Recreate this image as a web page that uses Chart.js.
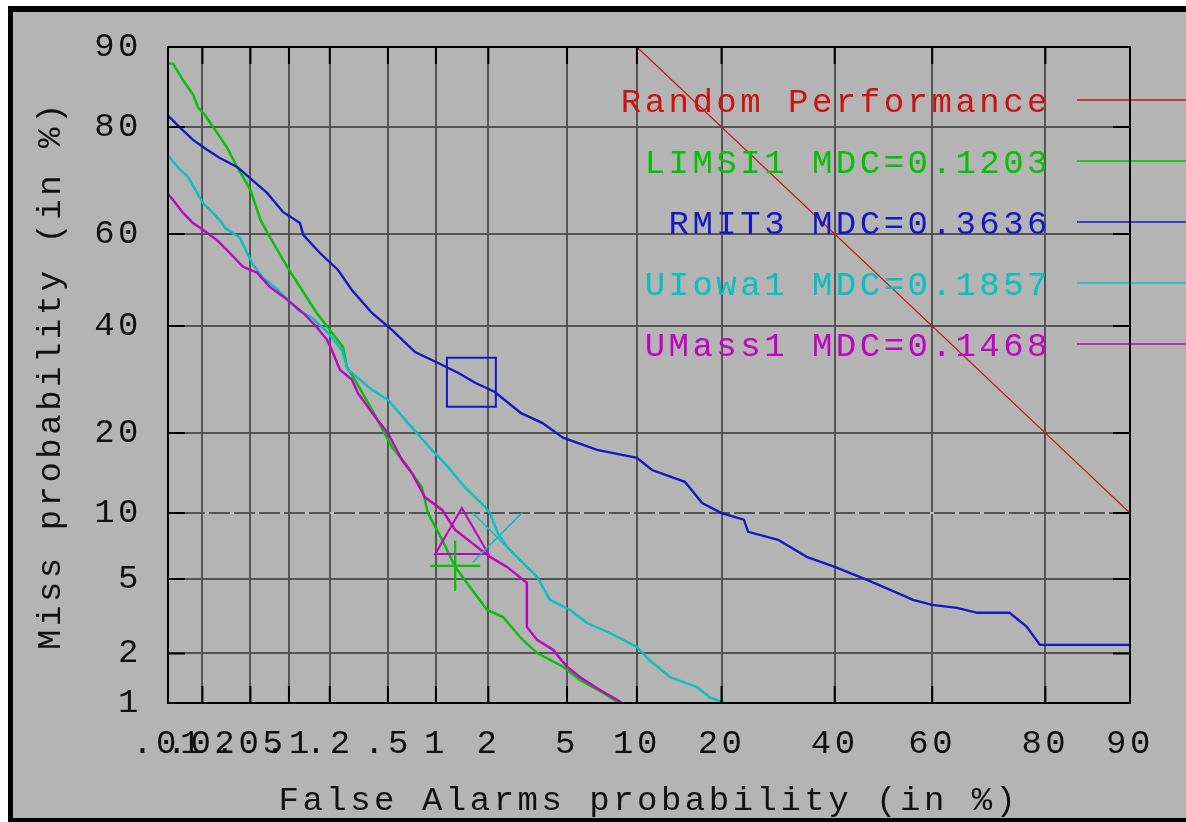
<!DOCTYPE html>
<html><head><meta charset="utf-8">
<script src="https://cdn.jsdelivr.net/npm/chart.js@4.4.1/dist/chart.umd.min.js"></script>
<style>html,body{margin:0;padding:0;background:#fff;overflow:hidden}canvas{display:block}</style>
</head><body>
<canvas id="c" width="1186" height="822"></canvas>
<script>
// ---------- data (percent) ----------
const xTickValues = [0.01,0.02,0.05,0.1,0.2,0.5,1,2,5,10,20,40,60,80,90];
const xTickLabels = ['.01','.02','.05','.1','.2','.5','1','2','5','10','20','40','60','80','90'];
const yTickValues = [1,2,5,10,20,40,60,80,90];
const yTickLabels = ['1','2','5','10','20','40','60','80','90'];

const legendLabels = ['Random Performance','LIMSI1 MDC=0.1203','RMIT3 MDC=0.3636','UIowa1 MDC=0.1857','UMass1 MDC=0.1468'];

const randomFA   = [10, 90];
const randomMiss = [90, 10];

const limsiFA   = [0.01,0.0111,0.0136,0.0166,0.0183,0.021,0.0255,0.032,0.039,0.05,0.06,0.071,0.097,0.121,0.161,0.2,0.249,0.264,0.3,0.392,0.531,0.644,0.822,0.894,1.09,1.30,1.58,1.97,2.40,2.94,3.59,4.79,5.73,7.24,8.30,8.6];
const limsiMiss = [88.3,88.3,86.4,84.6,82.9,81.8,79.6,76.8,73.3,69.0,63.0,59.4,52.9,48.5,42.8,39.2,35.6,31.6,29.2,23.8,17.9,15.7,12.7,10.0,7.65,5.73,4.57,3.48,3.19,2.48,2.01,1.67,1.39,1.16,1.02,1.0];

const rmitFA   = [0.01,0.0128,0.0166,0.0219,0.0281,0.039,0.0515,0.0678,0.090,0.121,0.128,0.170,0.229,0.286,0.392,0.531,0.745,1.03,1.35,1.69,2.17,2.98,3.80,4.79,6.83,10.0,11.45,15.1,17.3,20.0,23.4,24.1,29.2,34.5,40.0,46.6,51.4,56.1,60.0,64.9,68.7,74.4,77.2,78.1,79.2,90];
const rmitMiss = [81.7,79.9,77.96,76.3,74.9,73.3,70.9,68.4,64.6,62.3,59.8,55.9,52.2,47.8,42.8,39.2,34.6,32.4,30.5,28.6,26.9,23.2,21.6,19.3,17.5,16.4,14.8,13.35,11.0,10.0,9.37,8.3,7.65,6.39,5.73,4.96,4.42,3.93,3.70,3.57,3.36,3.36,2.82,2.55,2.24,2.24];

const uiowaFA   = [0.01,0.0128,0.0150,0.0202,0.0246,0.0293,0.031,0.041,0.0515,0.062,0.0825,0.117,0.148,0.194,0.244,0.269,0.392,0.5,0.672,0.946,1.18,1.48,1.92,2.04,2.25,2.52,2.94,3.59,4.15,5.16,6.17,7.75,10.0,11.2,13.35,16.6,18.4,20.5];
const uiowaMiss = [75.3,72.8,71.5,66.4,64.4,62.3,61.3,59.2,53.7,50.7,47.8,43.5,41.8,38.6,35.0,31.1,27.3,25.5,21.6,17.5,15.2,12.7,10.6,10.0,8.2,7.1,6.19,5.12,3.93,3.48,2.96,2.61,2.18,1.83,1.45,1.26,1.08,1.0];

const umassFA   = [0.01,0.0111,0.0136,0.0166,0.0202,0.0266,0.034,0.0436,0.0565,0.071,0.097,0.128,0.161,0.191,0.207,0.236,0.286,0.315,0.411,0.5,0.616,0.712,0.859,1.09,1.30,1.62,2.04,2.52,3.19,3.19,3.59,4.29,5.0,5.73,7.0,8.3,8.7];
const umassMiss = [68.2,67.0,64.4,62.3,60.9,58.7,55.9,52.9,51.6,48.5,45.7,42.8,39.8,37.1,35.0,31.1,29.2,26.7,22.6,20.0,16.1,14.4,11.6,10.3,8.47,7.41,6.39,5.73,4.79,2.82,2.39,2.10,1.67,1.45,1.21,1.05,1.0];

// MDC operating points: LIMSI1, RMIT3, UIowa1, UMass1
const mdcFA   = [1.30, 1.61, 2.24, 1.42];
const mdcMiss = [5.8, 28.7, 7.84, 7.75];

// ---------- styling ----------
const RED='#c81414', GREEN='#00c000', BLUE='#1818c0', CYAN='#00c0c0', MAGENTA='#c000c0';
const legendColors = [RED, GREEN, BLUE, CYAN, MAGENTA];
const FONT = '"Liberation Mono", "DejaVu Sans Mono", monospace';
const FSIZE = 34;
const SPACING = '3.5px';

// ---------- normal deviate (probit) scale ----------
function probit(p){
  const a=[-3.969683028665376e+01,2.209460984245205e+02,-2.759285104469687e+02,1.383577518672690e+02,-3.066479806614716e+01,2.506628277459239e+00];
  const b=[-5.447609879822406e+01,1.615858368580409e+02,-1.556989798598866e+02,6.680131188771972e+01,-1.328068155288572e+01];
  const c=[-7.784894002430293e-03,-3.223964580411365e-01,-2.400758277161838e+00,-2.549732539343734e+00,4.374664141464968e+00,2.938163982698783e+00];
  const d=[7.784695709041462e-03,3.224671290700398e-01,2.445134137142996e+00,3.754408661907416e+00];
  const pl=0.02425, ph=1-pl; let q,r;
  if(p<pl){q=Math.sqrt(-2*Math.log(p));return (((((c[0]*q+c[1])*q+c[2])*q+c[3])*q+c[4])*q+c[5])/((((d[0]*q+d[1])*q+d[2])*q+d[3])*q+1);}
  if(p<=ph){q=p-0.5;r=q*q;return (((((a[0]*r+a[1])*r+a[2])*r+a[3])*r+a[4])*r+a[5])*q/(((((b[0]*r+b[1])*r+b[2])*r+b[3])*r+b[4])*r+1);}
  q=Math.sqrt(-2*Math.log(1-p));return -(((((c[0]*q+c[1])*q+c[2])*q+c[3])*q+c[4])*q+c[5])/((((d[0]*q+d[1])*q+d[2])*q+d[3])*q+1);
}
function phi(z){ // standard normal CDF
  const t=1/(1+0.2316419*Math.abs(z));
  const y=0.3989423*Math.exp(-z*z/2)*t*(0.3193815+t*(-0.3565638+t*(1.781478+t*(-1.821256+t*1.330274))));
  return z>0?1-y:y;
}
class ProbitScale extends Chart.Scale {
  determineDataLimits(){ this.min=this.options.min; this.max=this.options.max; }
  buildTicks(){ return (this.options.tickValues||[]).map(v=>({value:v})); }
  configure(){ super.configure(); this._z0=probit(this.min/100); this._z1=probit(this.max/100); }
  getPixelForValue(v){
    if(v===null||v===undefined||isNaN(v)) return NaN;
    return this.getPixelForDecimal((probit(v/100)-this._z0)/(this._z1-this._z0));
  }
  getValueForPixel(px){ return 100*phi(this._z0+this.getDecimalForPixel(px)*(this._z1-this._z0)); }
  getPixelForTick(i){ const t=this.ticks; return (i<0||i>=t.length)?null:this.getPixelForValue(t[i].value); }
  getLabelForValue(v){ return String(v); }
}
ProbitScale.id='probit';
ProbitScale.defaults={};
Chart.register(ProbitScale);

const pts=(xs,ys)=>xs.map((x,i)=>({x:x,y:ys[i]}));

// ---------- plugins ----------
const framePlugin = {
  id:'frame',
  beforeUpdate(chart){ chart.ctx.letterSpacing=SPACING; },
  beforeDraw(chart){
    const ctx=chart.ctx; ctx.letterSpacing=SPACING;
    ctx.save();
    ctx.fillStyle='#ffffff'; ctx.fillRect(0,0,chart.width,chart.height);
    ctx.fillStyle='#000000'; ctx.fillRect(8,6,chart.width-8,chart.height-6);
    ctx.fillStyle='#b4b4b4'; ctx.fillRect(13,12,chart.width-13,chart.height-12-4);
    ctx.restore();
  },
  beforeDatasetsDraw(chart){
    const ctx=chart.ctx, a=chart.chartArea, ys=chart.scales.y;
    ctx.save();
    const y10=ys.getPixelForValue(10);
    ctx.strokeStyle='#bcbcbc'; ctx.lineWidth=2; ctx.setLineDash([4,21]); ctx.lineDashOffset=-12;
    ctx.beginPath(); ctx.moveTo(a.left,y10); ctx.lineTo(a.right,y10); ctx.stroke();
    ctx.restore();
  },
  afterDatasetsDraw(chart){
    const ctx=chart.ctx, a=chart.chartArea, xs=chart.scales.x, ys=chart.scales.y;
    ctx.save();
    // legend
    ctx.font=FSIZE+'px '+FONT; ctx.letterSpacing=SPACING;
    ctx.textAlign='right'; ctx.textBaseline='alphabetic';
    legendLabels.forEach((t,i)=>{
      const ly=a.top+53+61*i;
      ctx.fillStyle=legendColors[i];
      ctx.fillText(t, 1051, ly+12);
      ctx.strokeStyle=legendColors[i]; ctx.lineWidth=1.6;
      ctx.beginPath(); ctx.moveTo(1077,ly); ctx.lineTo(chart.width,ly); ctx.stroke();
    });
    // inward tick marks
    ctx.strokeStyle='#000'; ctx.lineWidth=2; ctx.setLineDash([]);
    const L=17;
    ctx.beginPath();
    xs.ticks.forEach((t,i)=>{ const px=xs.getPixelForTick(i);
      ctx.moveTo(px,a.top); ctx.lineTo(px,a.top+L); ctx.moveTo(px,a.bottom); ctx.lineTo(px,a.bottom-L); });
    ys.ticks.forEach((t,i)=>{ const py=ys.getPixelForTick(i);
      ctx.moveTo(a.left,py); ctx.lineTo(a.left+L,py); ctx.moveTo(a.right,py); ctx.lineTo(a.right-L,py); });
    ctx.stroke();
    ctx.strokeRect(a.left,a.top,a.right-a.left,a.bottom-a.top);
    ctx.restore();
  }
};

const curve=(data,color,w)=>({data:data,borderColor:color,backgroundColor:color,borderWidth:w,pointRadius:0,tension:0,fill:false,borderJoinStyle:'miter'});
const marker=(i,color,style,r,w)=>({data:[{x:mdcFA[i],y:mdcMiss[i]}],showLine:false,pointStyle:style,pointRadius:r,pointBorderWidth:w,borderColor:color,pointBorderColor:color,pointBackgroundColor:'rgba(0,0,0,0)',backgroundColor:'rgba(0,0,0,0)'});

new Chart(document.getElementById('c'),{
  type:'line',
  data:{datasets:[
    marker(0,GREEN,'cross',25,2.2),
    marker(1,BLUE,'rect',34.6,2),
    marker(2,CYAN,'crossRot',35,1.5),
    marker(3,MAGENTA,'triangle',30.7,2),
    curve(pts(umassFA,umassMiss),MAGENTA,2.4),
    curve(pts(uiowaFA,uiowaMiss),CYAN,2.4),
    curve(pts(rmitFA,rmitMiss),BLUE,2.4),
    curve(pts(limsiFA,limsiMiss),GREEN,2.4),
    curve(pts(randomFA,randomMiss),RED,1.2)
  ]},
  options:{
    responsive:false, animation:false, devicePixelRatio:1,
    layout:{padding:{left:0,top:47,right:56,bottom:0}},
    plugins:{legend:{display:false},tooltip:{enabled:false}},
    events:[],
    scales:{
      x:{type:'probit',position:'bottom',min:0.01,max:90,tickValues:xTickValues,
        afterFit(s){ s.height=119; },
        grid:{color:'#555555',lineWidth:2,drawTicks:false},
        border:{display:false},
        ticks:{autoSkip:false,maxRotation:0,minRotation:0,padding:21,color:'#111',font:{family:FONT,size:FSIZE},callback:(v,i)=>xTickLabels[i]},
        title:{display:true,text:'False Alarms probability (in %)',color:'#111',font:{family:FONT,size:FSIZE},padding:{top:0,bottom:1}}
      },
      y:{type:'probit',position:'left',min:1,max:90,tickValues:yTickValues,
        afterFit(s){ s.width=168; },
        grid:{color:'#555555',lineWidth:2,drawTicks:false},
        border:{display:false},
        ticks:{autoSkip:false,padding:26,color:'#111',font:{family:FONT,size:FSIZE},callback:(v,i)=>yTickLabels[i]},
        title:{display:true,text:'Miss probability (in %)',color:'#111',font:{family:FONT,size:FSIZE},padding:{top:31,bottom:0}}
      }
    }
  },
  plugins:[framePlugin]
});
</script>
</body></html>
